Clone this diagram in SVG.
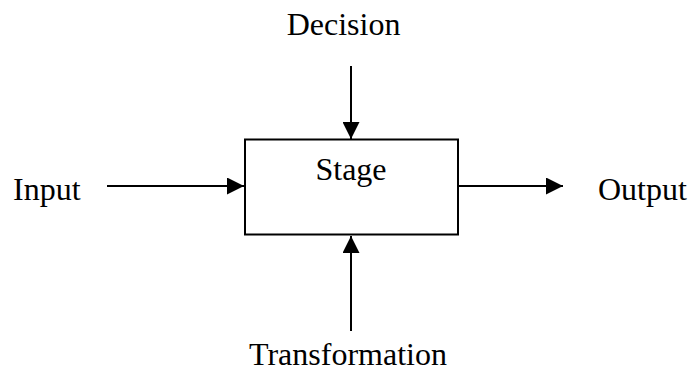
<svg xmlns="http://www.w3.org/2000/svg" width="690" height="373" viewBox="0 0 690 373">
<style>
text{font-family:"Liberation Serif","Times New Roman",serif;font-size:32px;fill:#000}
.box{fill:#fff;stroke:#000;stroke-width:2}
.conn{stroke:#000;stroke-width:2;fill:none}
</style>
<defs>
<marker id="ah" markerWidth="17" markerHeight="17" viewBox="0 0 17 17" refX="17" refY="8.5" orient="auto" markerUnits="userSpaceOnUse">
<path d="M0,0 L17,8.5 L0,17 Z" fill="#000"/>
</marker>
</defs>
<rect width="690" height="373" fill="#fff"/>
<g id="connectors">
<line class="conn" x1="107" y1="186" x2="244" y2="186" marker-end="url(#ah)"/>
<line class="conn" x1="458" y1="186" x2="563" y2="186" marker-end="url(#ah)"/>
<line class="conn" x1="351" y1="66" x2="351" y2="139" marker-end="url(#ah)"/>
<line class="conn" x1="351" y1="331" x2="351" y2="236" marker-end="url(#ah)"/>
</g>
<g id="stage">
<rect class="box" x="245" y="139.5" width="213" height="95"/>
<text x="351" y="180" text-anchor="middle">Stage</text>
</g>
<g id="input"><text x="13" y="200">Input</text></g>
<g id="output"><text x="598" y="200">Output</text></g>
<g id="decision"><text x="343.5" y="35" text-anchor="middle">Decision</text></g>
<g id="transformation"><text x="348" y="365" text-anchor="middle">Transformation</text></g>
</svg>
